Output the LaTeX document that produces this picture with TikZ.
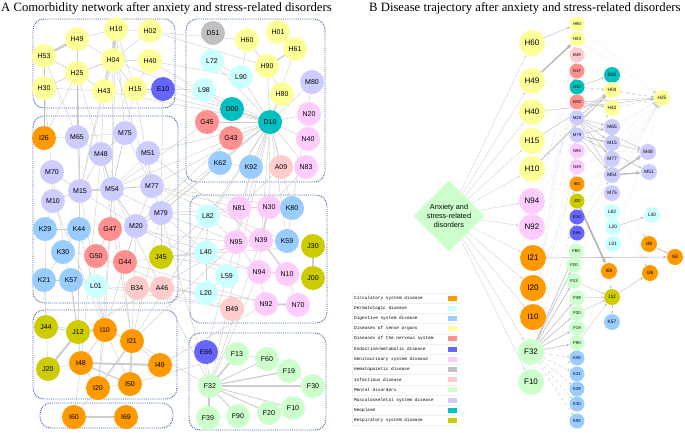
\documentclass[tikz,border=0pt]{standalone}
\usepackage{fontspec}
\setmainfont{Liberation Serif}
\setsansfont{Liberation Sans}
\setmonofont{Liberation Mono}
\usetikzlibrary{shapes.geometric,arrows.meta,backgrounds}
\definecolor{circ}{HTML}{FF9900}
\definecolor{derm}{HTML}{CCFFFF}
\definecolor{dig}{HTML}{99CCFF}
\definecolor{sen}{HTML}{FFFF99}
\definecolor{nerv}{HTML}{FF9090}
\definecolor{endo}{HTML}{6666FF}
\definecolor{geni}{HTML}{FFCCFF}
\definecolor{hem}{HTML}{C0C0C0}
\definecolor{inf}{HTML}{FFCCCC}
\definecolor{ment}{HTML}{CCFFCC}
\definecolor{musc}{HTML}{CCCCFF}
\definecolor{neo}{HTML}{00C0C0}
\definecolor{resp}{HTML}{CCCC00}
\definecolor{boxblue}{HTML}{3A5DA8}
\tikzset{
 ln/.style={circle,inner sep=0pt,minimum size=24pt,font=\sffamily\fontsize{7}{7}\selectfont},
 r1/.style={circle,inner sep=0pt,minimum size=26pt,font=\sffamily\fontsize{8}{8}\selectfont},
 r2/.style={circle,inner sep=0pt,minimum size=15pt,font=\sffamily\fontsize{4.3}{4.3}\selectfont},
 r3/.style={circle,inner sep=0pt,minimum size=16pt,font=\sffamily\fontsize{4.8}{4.8}\selectfont},
 grp/.style={draw=boxblue,densely dotted,line width=0.9pt,rounded corners=11pt},
 thinedge/.style={draw=gray!50,line width=0.3pt},
 arr/.style={draw=gray!60,line width=0.35pt,-{Stealth[length=3pt,width=2.2pt]}},
 darr/.style={draw=gray!35,line width=0.4pt,-{Stealth[length=3pt,width=2.2pt]}},
 dotarr/.style={draw=gray!45,line width=0.3pt,densely dotted,-{Stealth[length=2.5pt,width=2pt]}},
 dasharr/.style={draw=gray!50,line width=0.3pt,dashed,-{Stealth[length=2.5pt,width=2pt]}},
 legtext/.style={anchor=west,inner sep=0pt,font=\ttfamily\fontsize{4.4}{4.4}\selectfont},
 titlefont/.style={anchor=west,inner sep=0pt,font=\fontsize{12.7}{13}\selectfont},
}
\begin{document}
\begin{tikzpicture}[x=1pt,y=-1pt]
\useasboundingbox (0,0) rectangle (685,432);
% titles
\node[titlefont] (titA) at (1,8) {A Comorbidity network after anxiety and stress-related disorders};
\node[titlefont] (titB) at (369,8) {B Disease trajectory after anxiety and stress-related disorders};
% ---------- Panel A nodes ----------
\foreach \n/\x/\y/\c in {
 H10/116/29/sen, H02/150/31/sen, H49/77/39/sen, H53/44/56/sen, H04/113/60/sen, H40/150/61/sen,
 H25/77/73/sen, H30/44/88/sen, H43/104/91/sen, H15/135/89/sen, E10/163/89/endo,
 D51/213/33/hem, H60/247/40/sen, H01/278/32/sen, H61/295/49/sen, H90/267/66/sen, H80/282/94/sen,
 L72/212/61/derm, L90/241/77/derm, L98/204/90/derm, M80/312/82/musc, D00/232/109/neo, D10/270/122/neo,
 N20/309/114/geni, N40/308/139/geni, N83/306/167/geni, G45/207/122/nerv, G43/231/138/nerv,
 K62/220/163/dig, K92/251/167/dig, A09/281/167/inf,
 I26/44/138/circ, M65/77/137/musc, M75/125/133/musc, M48/101/154/musc, M51/148/153/musc, M70/52/172/musc,
 M15/80/191/musc, M54/112/189/musc, M77/152/186/musc, M10/53/201/musc, M79/161/213/musc, M20/136/226/musc,
 K29/45/229/dig, K44/79/229/dig, K30/63/252/dig, K21/44/280/dig, K57/71/280/dig,
 G47/110/229/nerv, G50/96/256/nerv, G44/125/262/nerv, J45/161/257/resp, L01/96/286/derm,
 B34/137/288/inf, A46/162/288/inf,
 N81/239/208/geni, N30/269/207/geni, N95/236/242/geni, N39/261/240/geni, N94/259/272/geni,
 N10/287/274/geni, N92/266/304/geni, N70/298/305/geni, K80/292/208/dig, K59/287/241/dig,
 L82/208/216/derm, L40/206/252/derm, L59/227/276/derm, L20/206/293/derm,
 J30/313/246/resp, J00/313/278/resp, B49/232/309/inf,
 J44/46/327/resp, J12/78/332/resp, J20/48/369/resp,
 I10/105/330/circ, I21/132/341/circ, I48/81/363/circ, I49/160/365/circ, I20/98/388/circ, I50/130/384/circ,
 I60/74/417/circ, I69/126/417/circ,
 E66/206/352/endo, F13/237/354/ment, F60/267/359/ment, F19/289/371/ment, F32/210/386/ment,
 F30/313/386/ment, F10/293/408/ment, F20/269/413/ment, F39/208/418/ment, F90/238/416/ment}
 \node[ln,fill=\c] (a\n) at (\x,\y) {\n};
% ---------- Panel B nodes ----------
\node[diamond,aspect=1,fill=ment,inner sep=0pt,minimum size=71pt,align=center,
 font=\sffamily\fontsize{7.3}{9}\selectfont] (diam) at (449,216) {Anxiety and\\stress-related\\disorders};
\foreach \n/\x/\y/\c in {H60/532/43/sen, H49/532/81/sen, H40/532/112/sen, H15/532/141/sen, H10/532/169/sen,
 N94/532/201/geni, N92/532/227/geni, I21/533/258/circ, I20/533/288/circ, I10/533/317/circ,
 F32/531/352/ment, F10/531/382/ment}
 \node[r1,fill=\c] (b\n) at (\x,\y) {\n};
\foreach \n/\x/\y/\c in {H90/577/24/sen, H53/577/39/sen, B49/577/55/inf, G47/577/71/nerv, D10/577/87/neo,
 G50/577/102/nerv, M20/577/118/musc, M79/577/135/musc, N95/577/151/geni, N39/577/167/geni,
 I60/577/184/circ, J00/577/201/resp, E10/577/217/endo, E66/577/233/endo, F60/576/251/ment,
 F20/574/265/ment, F13/574/281/ment, F39/577/298/ment, F30/577/313/ment, F19/577/328/ment,
 F90/577/343/ment, K59/577/358/dig, K21/577/374/dig, K29/577/389/dig, K30/577/404/dig, K92/577/421/dig}
 \node[r2,fill=\c] (b\n) at (\x,\y) {\n};
\foreach \n/\x/\y/\c in {D00/612/75/neo, H04/612/90/sen, H43/612/108/sen, M65/612/127/musc, M15/612/143/musc,
 M77/612/159/musc, M54/612/175/musc, M75/612/193/musc, L82/612/212/derm, L20/613/227/derm,
 L01/613/244/derm, I69/609/271/circ, J12/612/297/resp, K57/612/322/dig,
 H25/662/98/sen, M48/648/152/musc, M51/649/172/musc, L40/652/215/derm, I48/649/244/circ,
 I26/650/273/circ, I50/675/257/circ}
 \node[r3,fill=\c] (b\n) at (\x,\y) {\n};
% ---------- legend ----------
\foreach \t/\c [count=\i from 0] in {Circulatory system disease/circ, Dermatologic disease/derm,
 Digestive system disease/dig, Diseases of sense organs/sen, Diseases of the nervous system/nerv,
 {Endocrine/metabolic disease}/endo, Genitourinary system disease/geni, Hematopoietic disease/hem,
 Infectious disease/inf, Mental disorders/ment, Musculoskeletal system disease/musc, Neoplasm/neo,
 Respiratory system disease/resp}{
 \node[legtext] (lg\i) at (354,{298+10.2*\i}) {\t};
 \node[fill=\c,minimum width=9pt,minimum height=5pt,inner sep=0pt] (ls\i) at (452.5,{298+10.2*\i}) {};
 \draw[gray!12,line width=0.3pt] (352,{303.1+10.2*\i}) -- (460,{303.1+10.2*\i});
}
\draw[gray!12,line width=0.3pt] (352,292.9) -- (460,292.9);
\draw[gray!12,line width=0.3pt] (352,292.9) -- (352,426);
% ---------- background: boxes and edges ----------
\begin{scope}[on background layer]
\draw[grp] (33,19) rectangle (175,108);
\draw[grp] (186,19) rectangle (325,182);
\draw[grp] (33,116) rectangle (178,303);
\draw[grp] (190,195) rectangle (327,323);
\draw[grp] (33,310) rectangle (177,399);
\draw[grp] (40,403) rectangle (173,428);
\draw[grp] (189,333) rectangle (326,430);
% thin panel A edges
\foreach \p/\q in {H10/M75, H10/M54, H10/M15, H04/M54, H04/M77, H43/M15, H43/M48, H25/M15, H25/M54, H25/M65,
 H15/M77, H15/M54, E10/M79, E10/D10, H43/D10, H15/D10, H40/L90, H02/H90, H10/H60, H53/M65, H30/M70, H49/M15,
 H04/D00, H40/D00, H15/L98, H10/H15, H04/H43, H43/H15, H30/H43, H53/H30, H02/H04, H40/H15, H10/H49, H49/H04, E10/H15,
 D10/M79, D10/M54, D10/M20, D10/M77, D10/M51, D10/N81, D10/N95, D10/L82, D10/N39, D10/K59, D10/K80, D10/N30,
 D10/I21, D10/F32, D10/K62, D10/K92, D10/A09, D10/N83, D10/N40, D10/N20, D10/M80, D10/L72, D10/L98, D10/H61,
 D00/L98, D00/G45, G45/G43, L72/L90, H01/H61, H90/H80, K62/K92, G43/M20, G45/M54, K62/M79, K92/N95, A09/N81,
 N83/N30, M80/K80, H60/L90,
 M79/L82, M79/N95, M79/L40, M77/N81, M20/L59, M20/N94, M20/I10, M54/I21, M15/J12, M48/I48, G47/I20, G44/N92,
 G50/B49, K44/I10, J45/J30, J45/N10, B34/B49, L01/L20, A46/N70, M79/F32, M54/F32, N95/I21, N39/F32, L59/E66,
 N94/F32, I21/F32, I50/F13, I49/N92, J12/N95, K57/J12, I20/I60, I48/I60, M10/K29, M70/M10, I26/M65, M65/M75,
 M51/M77, M48/M54, M75/M54, M15/M20, M54/M79, M20/G47, M20/G44, G50/G44, K44/K30, K30/G50, K21/K57, K57/L01,
 M54/G47, M15/K44, M77/M20, M51/M54, M75/M77, M15/M48, M65/M48,
 N95/N81, K59/N39, K59/K80, N30/K80, N10/N70, N92/N94, L40/L59, L59/L20, N95/L59, N10/J00, N95/N94, N39/N94,
 L82/N95, N81/L82,
 J44/I10, I10/I50, I20/I50, I21/I49, J12/I48, J20/I48, F13/F60, F19/F30, F10/F20,
 M79/I21, M20/I21, M54/I10, M77/K59, M51/N39, M48/I21, M15/I10, G47/N95, G44/L40, K44/J12, K29/J44, K21/J20,
 J45/K59, J45/L82, M79/N30, M77/K80, H25/I26, H30/I26, M10/I10, M70/J12, L01/B49, K57/I48}
 \draw[thinedge] (a\p.center) -- (a\q.center);
% weighted panel A edges
\foreach \p/\q/\w in {H49/H53/2.5, H10/H04/1.6, H10/H43/1, H25/H04/0.8, H25/H30/0.6, H49/H25/0.6, H25/H43/0.6,
 H04/H40/0.5, H04/H15/0.6, H25/H53/0.6,
 H90/H61/1.2, H60/H90/0.5, D10/D00/0.8, D10/G45/0.6, D10/G43/0.5, D10/H80/0.6, D10/H90/0.5, D10/L90/0.5,
 M15/M54/1.5, M54/M77/1, M54/M48/0.8, M15/M10/0.6, M15/M70/0.6, M54/M20/0.8, M79/M20/0.8, M79/J45/1,
 M77/M79/0.6, M75/M48/0.6, M65/M15/0.5, G47/G50/0.6, K30/K21/0.5, B34/A46/0.6, K29/K44/0.5,
 N30/N39/1.5, N39/N10/1.2, J30/J00/1.5, N92/N70/1.5, L40/L20/1, N95/N39/0.8, N94/N10/0.6, L82/L40/0.6, N81/N30/0.5,
 J12/J20/2, J12/I10/1.2, J44/J12/0.8, I48/I49/2, I48/I50/1.2, I21/I50/1.5, I21/I20/1.2, I10/I21/0.6,
 I10/I48/0.5, I48/I20/0.6, I10/I20/0.5,
 I60/I69/2.5,
 F32/F30/2.5, F32/F39/2, F32/F13/1.5, F32/F19/1.2, F32/F60/0.8, F32/F20/1, F32/F10/0.8, F32/F90/0.8, F32/E66/0.5}
 \draw[draw=gray!40,line width=\w pt] (a\p.center) -- (a\q.center);
% ---------- panel B edges ----------
\foreach \n in {H60,H49,H40,H15,H10,N94,N92,I21,I20,I10,F32,F10}
 \draw[darr] (diam) -- (b\n);
\draw[arr] (bH60) -- (bH90);
\draw[draw=gray!60,line width=1.3pt,-{Stealth[length=5pt,width=4pt]}] (bH49) -- (bH53);
\draw[arr] (bH40) -- (bH25);
\draw[arr] (bH15) -- (bH04);
\draw[draw=gray!60,line width=0.7pt,-{Stealth[length=4pt,width=3pt]}] (bH10) -- (bH04);
\draw[draw=gray!55,line width=0.6pt,-{Stealth[length=4pt,width=3pt]}] (bI21) -- (bI50);
\foreach \n in {F60,F20,F13,F39,F30,F19,F90}
 \draw[draw=gray!60,line width=0.5pt,-{Stealth[length=3pt,width=2.2pt]}] (bF32) -- (b\n);
\foreach \n in {K59,K21,K29,K30,K92}
 \draw[dasharr] (bF32) -- (b\n);
\foreach \p/\q in {I10/B49, I20/G47, I21/D10, N92/G50, N94/M20, F32/M79, F10/N95, I10/N39, I20/I60, N92/H53,
 I10/H90, N94/G47, F10/J00, F32/E10, I21/E66, I20/M20, F10/K59}
 \draw[dotarr] (b\p) -- (b\q);
\draw[arr] (bD10) -- (bD00);
\draw[dasharr] (bD10) -- (bH04);
\draw[arr] (bG50) -- (bH43);
\draw[draw=gray!60,line width=0.5pt,-{Stealth[length=3pt,width=2.2pt]}] (bM20) -- (bH04);
\foreach \q in {M65,M15,M77,M54,M48}
 \draw[arr] (bM20) -- (b\q);
\foreach \q in {M15,M48,M51,M54,M65}
 \draw[arr] (bM79) -- (b\q);
\draw[arr] (bG50) -- (bH25);
\draw[dasharr] (bD10) -- (bH25);
\foreach \p/\q in {H53/H25, H90/H25, M65/H25, M15/H25, E10/H25, F60/H25, J00/H25, E66/H25, I60/M48,
 N95/M48, M20/I48, M79/I26, N39/H43, E66/M54, F20/H25, K59/H25, N95/H25}
 \draw[dotarr] (b\p) -- (b\q);
\draw[dasharr] (bH04) -- (bH25);
\draw[dasharr] (bH43) -- (bH25);
\draw[draw=gray!55,line width=1.3pt,-{Stealth[length=5pt,width=4pt]}] (bM54) -- (bM48);
\draw[draw=gray!55,line width=1.3pt,-{Stealth[length=5pt,width=4pt]}] (bM54) -- (bM51);
\draw[draw=gray!60,line width=1.6pt,-{Stealth[length=5pt,width=4pt]}] (bJ00) -- (bI69);
\draw[arr] (bL20) -- (bL40);
\draw[draw=gray!60,line width=0.6pt,-{Stealth[length=3pt,width=2.4pt]}] (bI48) -- (bI50);
\draw[dasharr] (bI69) -- (bJ12);
\draw[arr] (bJ12) -- (bI26);
\draw[dasharr] (bJ12) -- (bK57);
\foreach \p in {F13,F39,F30,F90}
 \draw[thinedge,-{Stealth[length=2.5pt,width=2pt]}] (b\p) -- (bJ12);
\end{scope}
\end{tikzpicture}
\end{document}
